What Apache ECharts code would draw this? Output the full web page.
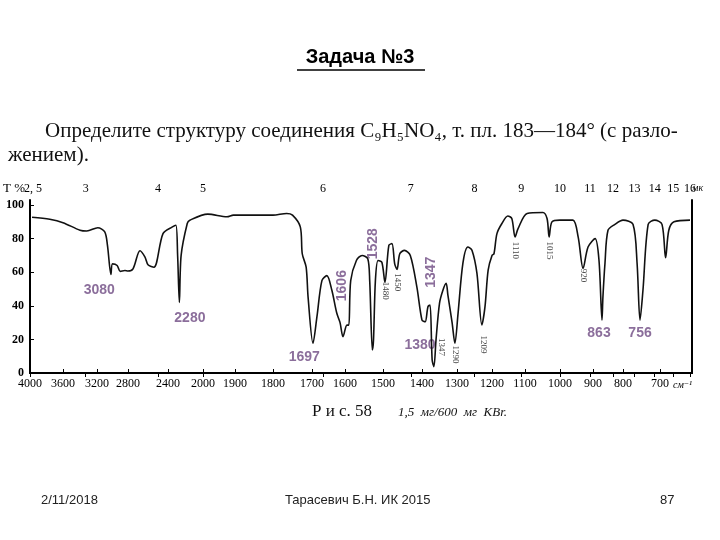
<!DOCTYPE html>
<html><head><meta charset="utf-8">
<script src="https://cdn.jsdelivr.net/npm/echarts@6/dist/echarts.min.js"></script>
<style>html,body{margin:0;padding:0;background:#fff}#c{width:720px;height:540px}</style>
</head><body><div id="c"></div>
<script>
// bottom axis ticks (cm-1) and their relative positions on the nonlinear scan scale
const wnTicks = [4000,3600,3200,2800,2400,2000,1900,1800,1700,1600,1500,1400,1300,1200,1100,1000,900,800,700,620];
const scalePos = [30,63,97,128,168,203,235,273,312,345,383,422,457,492,525,560,593,623,660,692];
const bottomLabels = [4000,3600,3200,2800,2400,2000,1900,1800,1700,1600,1500,1400,1300,1200,1100,1000,900,800,700];
const micronLabels = ['2, 5','3','4','5','6','7','8','9','10','11','12','13','14','15','16'];
const micronValues = [2.5,3,4,5,6,7,8,9,10,11,12,13,14,15,16];
const yTicks = [0,20,40,60,80,100];
// spectrum: wavenumber (cm-1), transmittance (%)
const wavenumber = [3975,3760,3600,3400,3320,3190,3100,3065,3020,3000,2940,2900,2840,2800,2750,2680,2630,2600,2540,2450,2350,2310,2290,2270,2250,2180,2150,1985,1925,1905,1800,1765,1750,1730,1725,1715,1710,1697,1685,1670,1655,1640,1625,1615,1606,1595,1590,1585,1570,
1555,1540,1535,1528,1525,1520,1513,1503,1495,1485,1477,1470,1464,1457,1445,1430,1413,1400,1391,1383,1377,1371,1366,1360,1350,1340,1331,1326,1314,1306,1297,1283,1269,1257,1243,1229,1220,1211,1200,1194,1185,1170,1152,1140,1130,1121,1094,1049,1037,1031,1023,1000,961,945,930,915,893,880,870,867,860,850,827,800,773,762,754,746,732,714,695,686,678,665,625];
const transmittance = [92.7,91.5,89.5,85,84.5,86.5,84,76,58.7,65,64,60.5,61,60.7,62,72.8,69,64.5,63,83,87,88,70,42,70,89,91,94.6,93,94,94,95,94,87,71,63,45,17.7,33.5,55,58,49.4,35.7,30,21.6,28.5,28.5,55,67,
70,68,55,13.7,19.6,55,67,66,54,76,77,65,61.7,71,73,70,51,31.5,30.5,39.5,40.5,7.7,3.8,19.6,41.5,49.4,53.4,46.4,30,17.7,35.5,65.5,75,73,59.3,28.6,39.5,61.3,70,71,83,89,93.5,92,81,86,95,95.6,92,81,90,91,91,81,62.3,75,80,67,31.5,45,65.5,85,88.5,91,88.5,65.5,31.5,49.4,88.5,91,88.5,68.6,85,90,91];
// peak annotations: wavenumber, T, text
const bigLabels = [[3170,49.4,'3080',0],[2150,32.7,'2280',0],[1720,9.5,'1697',0],[1610,52,'1606',90],[1525,77,'1528',90],[1373,60,'1347',90],[1405,16.7,'1380',0],[880,24,'863',0],[754,24,'756',0]];
const smallLabels = [[1495,49,'1480'],[1463,54,'1450'],[1130,73,'1110'],[1031,73,'1015'],[930,58,'920'],[1345,15.5,'1347'],[1306,11,'1290'],[1226,17,'1209']];

function pos(w){
  for(let i=0;i<wnTicks.length-1;i++){
    const a=wnTicks[i],b=wnTicks[i+1];
    if(w<=a && w>=b) return scalePos[i]+(a-w)/(a-b)*(scalePos[i+1]-scalePos[i]);
  }
  return w>wnTicks[0]?scalePos[0]:scalePos[scalePos.length-1];
}
function wnOf(p){
  for(let i=0;i<scalePos.length-1;i++){
    if(p>=scalePos[i]-0.01 && p<=scalePos[i+1]+0.01){
      return wnTicks[i]+(p-scalePos[i])/(scalePos[i+1]-scalePos[i])*(wnTicks[i+1]-wnTicks[i]);
    }
  }
  return 0;
}
const botVals = bottomLabels.map(pos);
const topVals = micronValues.map(m=>pos(10000/m));
const line = wavenumber.map((w,i)=>[pos(w),transmittance[i]]);
const serif = '"Liberation Serif","DejaVu Serif",serif';
const chart = echarts.init(document.getElementById('c'));
chart.setOption({
  animation:false,
  grid:{left:30,right:28,top:200,bottom:167},
  xAxis:[{
    type:'value',min:30,max:692,position:'bottom',
    axisLine:{lineStyle:{color:'#000',width:2}},
    splitLine:{show:false},
    axisTick:{customValues:botVals,inside:true,length:4,lineStyle:{color:'#000'}},
    axisLabel:{customValues:botVals,color:'#000',fontFamily:serif,fontSize:12,margin:5,
      formatter:v=>String(Math.round(wnOf(v)/100)*100)}
  },{
    type:'value',min:30,max:692,position:'top',
    axisLine:{lineStyle:{color:'#000',width:2}},
    splitLine:{show:false},
    axisTick:{customValues:topVals,inside:true,length:4,lineStyle:{color:'#000'}},
    axisLabel:{customValues:topVals,color:'#000',fontFamily:serif,fontSize:12,margin:5,
      formatter:v=>{let w=wnOf(v);let m=10000/w;let k=micronValues.reduce((b,x,i)=>Math.abs(x-m)<Math.abs(micronValues[b]-m)?i:b,0);return (k===0?'  ':'')+micronLabels[k];}}
  }],
  yAxis:[{
    type:'value',min:0,max:103,position:'left',
    axisLine:{show:true,lineStyle:{color:'#000',width:2}},
    splitLine:{show:false},
    axisTick:{customValues:yTicks,inside:true,length:4,lineStyle:{color:'#000'}},
    axisLabel:{customValues:yTicks,color:'#000',fontFamily:serif,fontSize:12,fontWeight:'bold',margin:6}
  },{
    type:'value',min:0,max:103,position:'right',
    axisLine:{show:true,lineStyle:{color:'#000',width:2}},
    axisTick:{show:false},axisLabel:{show:false},splitLine:{show:false}
  }],
  series:[{
    type:'line',data:line,symbol:'none',smooth:0.3,
    lineStyle:{color:'#111',width:1.6}
  },{
    type:'scatter',symbolSize:0,data:bigLabels.map(d=>({value:[pos(d[0]),d[1]],label:{rotate:d[3]}})),
    label:{show:true,position:'inside',formatter:p=>bigLabels[p.dataIndex][2],color:'#6e4a82',fontFamily:'"Liberation Sans",Arial,sans-serif',fontWeight:'bold',fontSize:14}
  },{
    type:'scatter',symbolSize:0,data:smallLabels.map(d=>[pos(d[0]),d[1]]),
    label:{show:true,position:'inside',rotate:-90,formatter:p=>smallLabels[p.dataIndex][2],color:'#111',fontFamily:serif,fontSize:9}
  }],
  graphic:[
    {type:'text',left:'center',top:47,style:{text:'Задача №3',font:'bold 20px "Liberation Sans",Arial,sans-serif',fill:'#000'}},
    {type:'line',shape:{x1:297,y1:70,x2:425,y2:70},style:{stroke:'#000',lineWidth:1.5}},
    {type:'text',left:45,top:121,style:{text:'Определите структуру соединения C₉H₅NO₄, т. пл. 183—184° (с разло-',font:'21px '+serif,fill:'#111'}},
    {type:'text',left:8,top:145,style:{text:'жением).',font:'21px '+serif,fill:'#111'}},
    {type:'text',left:3,top:182,style:{text:'T %',font:'13px '+serif,fill:'#000'}},
    {type:'text',left:692,top:183,style:{text:'мк',font:'italic 10px '+serif,fill:'#000'}},
    {type:'text',left:673,top:380,style:{text:'см⁻¹',font:'italic 10px '+serif,fill:'#000'}},
    {type:'text',left:312,top:403,style:{text:'Р и с. 58',font:'17px '+serif,fill:'#111'}},
    {type:'text',left:398,top:406,style:{text:'1,5  мг/600  мг  KBr.',font:'italic 13px '+serif,fill:'#111'}},
    {type:'text',left:41,top:494,style:{text:'2/11/2018',font:'13px "Liberation Sans",Arial,sans-serif',fill:'#222'}},
    {type:'text',left:285,top:494,style:{text:'Тарасевич Б.Н. ИК 2015',font:'13px "Liberation Sans",Arial,sans-serif',fill:'#222'}},
    {type:'text',left:660,top:494,style:{text:'87',font:'13px "Liberation Sans",Arial,sans-serif',fill:'#222'}}
  ]
});
</script></body></html>
